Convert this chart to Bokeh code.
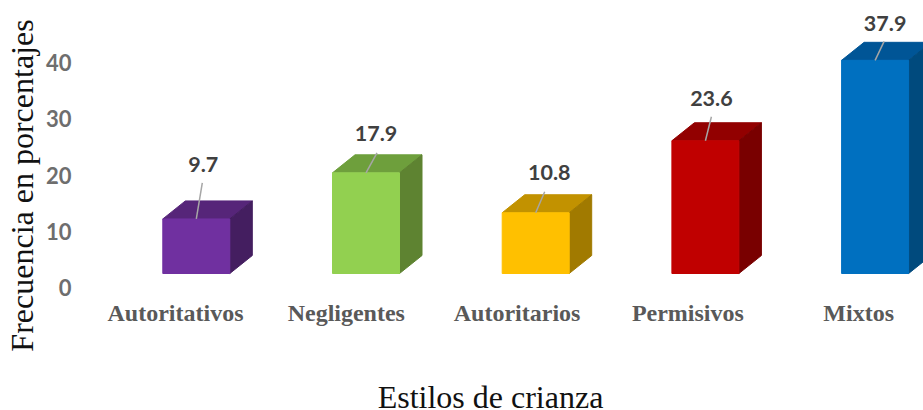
import math
from bokeh.plotting import figure
from bokeh.models import FixedTicker, Range1d
from bokeh.embed import file_html
from bokeh.resources import INLINE
from bokeh.core.properties import value

categories = ["Autoritativos", "Negligentes", "Autoritarios", "Permisivos", "Mixtos"]
percentages = [9.7, 17.9, 10.8, 23.6, 37.9]
y_ticks = [0, 10, 20, 30, 40]
x_title = "Estilos de crianza"
y_title = "Frecuencia en porcentajes"
front_colors = ["#7030A0", "#92D050", "#FFC000", "#C00000", "#0070C0"]
top_colors = ["#562579", "#6E9F3C", "#C29200", "#920000", "#005596"]
side_colors = ["#441E60", "#5E8331", "#A17A00", "#790000", "#004A7D"]

# layout, in pixels of the page
W, H = 923, 410
PX_PER_UNIT_Y = 5.625
PX_PER_CAT = 170.8
Y0_PX, X0_PX = 287.0, 175.0        # where tick 0 and the first category label sit


def dx_of(px):
    return (px - X0_PX) / PX_PER_CAT


def dy_of(px):
    return (Y0_PX - px) / PX_PER_UNIT_Y


FLOOR = 14 / PX_PER_UNIT_Y         # the bars stand above tick 0 in the 3-D view
BAR_X0_PX, BAR_PITCH_PX = 195.8, 169.7  # centres of the front faces
HALF_W = 33.5 / PX_PER_CAT
DEPTH_X = 22.5 / PX_PER_CAT
DEPTH_Y = 18 / PX_PER_UNIT_Y
# leader line end and label centre: (dx px, dy px) from the middle of the front top edge
leader_end = [(6, 36), (11, 20), (9, 21), (6, 24), (9, 19)]
label_at = [(7, 54), (10, 39), (13.5, 40), (6, 42), (10, 37)]

p = figure(width=W, height=H, x_range=Range1d(dx_of(0), dx_of(W)), y_range=Range1d(dy_of(H), dy_of(0)),
           output_backend="svg", toolbar_location=None,
           min_border_left=0, min_border_right=0, min_border_top=0, min_border_bottom=0)
p.outline_line_color = None
p.grid.visible = False

for i, v in enumerate(percentages):
    xc = dx_of(BAR_X0_PX + BAR_PITCH_PX * i)
    xl = xc - HALF_W
    xr = xc + HALF_W
    y0 = FLOOR
    y1 = FLOOR + v
    p.patch([xl, xr, xr + DEPTH_X, xl + DEPTH_X], [y1, y1, y1 + DEPTH_Y, y1 + DEPTH_Y],
            fill_color=top_colors[i], line_color=top_colors[i], line_width=1)
    p.patch([xr, xr + DEPTH_X, xr + DEPTH_X, xr], [y0, y0 + DEPTH_Y, y1 + DEPTH_Y, y1],
            fill_color=side_colors[i], line_color=side_colors[i], line_width=1)
    p.quad(left=xl, right=xr, bottom=y0, top=y1,
           fill_color=front_colors[i], line_color=front_colors[i], line_width=1)
    dx, dy = leader_end[i]
    p.line([xc, xc + dx / PX_PER_CAT], [y1, y1 + dy / PX_PER_UNIT_Y],
           line_color="#A6A6A6", line_width=1.5)
    lx, ly = label_at[i]
    p.text([xc + lx / PX_PER_CAT], [y1 + ly / PX_PER_UNIT_Y], text=[f"{v}"],
           text_font=value("Lato"), text_font_style="bold", text_font_size="21.5px",
           text_color="#404040", text_align="center", text_baseline="middle")

xa = p.xaxis[0]
xa.fixed_location = dy_of(293)
xa.ticker = FixedTicker(ticks=list(range(len(categories))))
xa.major_label_overrides = {i: c for i, c in enumerate(categories)}
xa.axis_line_color = None
xa.major_tick_line_color = None
xa.minor_tick_line_color = None
xa.major_label_text_font = "Liberation Serif"
xa.major_label_text_font_style = "bold"
xa.major_label_text_font_size = "24px"
xa.major_label_text_color = "#595959"
xa.major_label_standoff = 0

ya = p.yaxis[0]
ya.fixed_location = dx_of(77)
ya.ticker = FixedTicker(ticks=y_ticks)
ya.axis_line_color = None
ya.major_tick_line_color = None
ya.minor_tick_line_color = None
ya.major_label_text_font = "Lato"
ya.major_label_text_font_style = "bold"
ya.major_label_text_font_size = "22px"
ya.major_label_text_color = "#6E6E6E"
ya.major_label_standoff = 0

p.text([dx_of(490)], [dy_of(396)], text=[x_title],
       text_font=value("Liberation Serif"), text_font_size="32px", text_color="#111111",
       text_align="center", text_baseline="middle")
p.text([dx_of(21)], [dy_of(185)], text=[y_title], angle=math.pi / 2,
       text_font=value("Liberation Serif"), text_font_size="32px", text_color="#111111",
       text_align="center", text_baseline="middle")

html = file_html(p, INLINE).replace("</head>", "<style>body{margin:0}</style></head>")
open("out.html", "w").write(html)
